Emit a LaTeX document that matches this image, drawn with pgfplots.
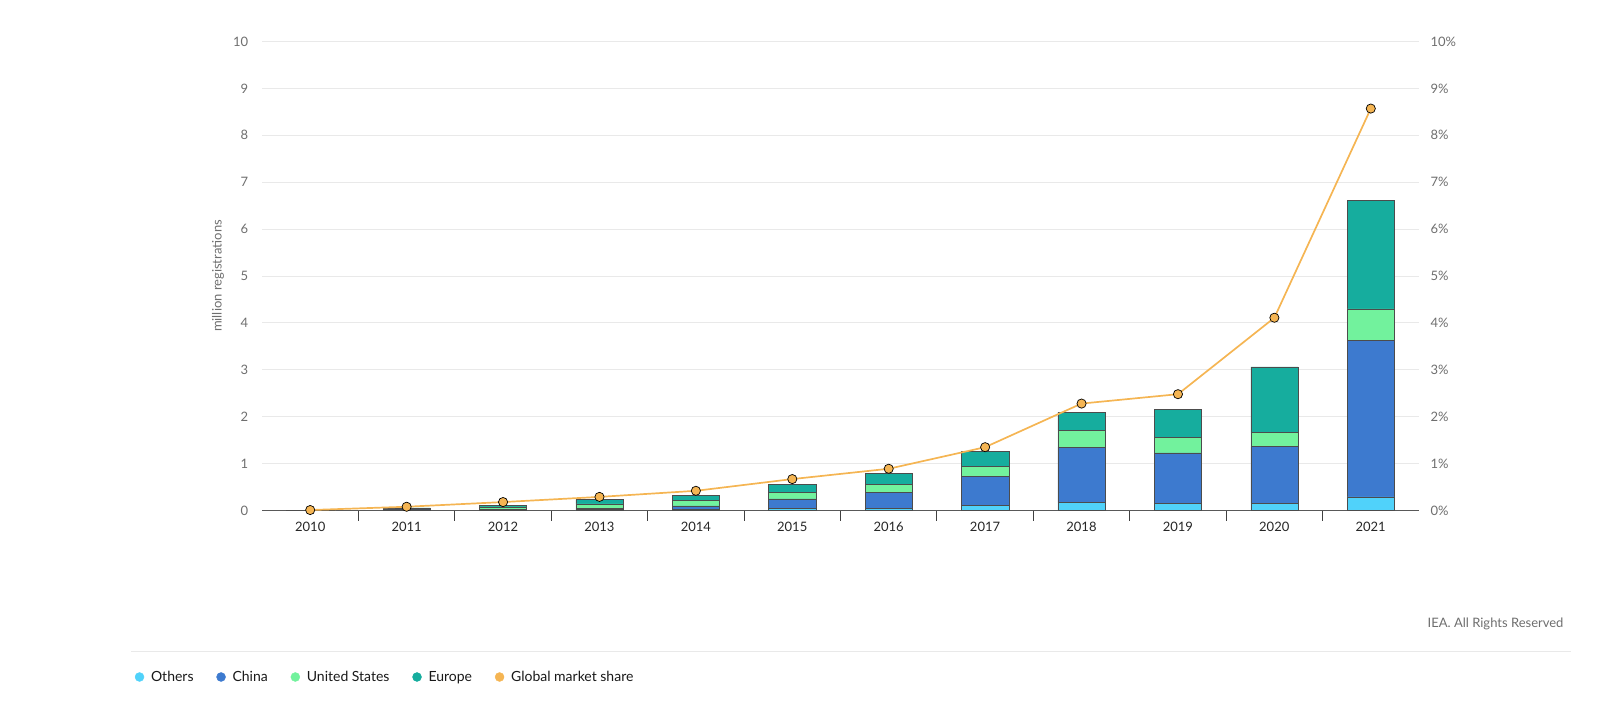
\documentclass[border=0pt]{standalone}
\usepackage{fontspec}
\setmainfont{Lato}
\usepackage{pgfplots}
\pgfplotsset{compat=1.18}

\definecolor{cOthers}{HTML}{50D2FA}
\definecolor{cChina}{HTML}{3D7ACF}
\definecolor{cUS}{HTML}{72F29D}
\definecolor{cEurope}{HTML}{16AD9E}
\definecolor{cShare}{HTML}{F5B553}
\definecolor{tickgray}{HTML}{6E6E6E}
\definecolor{gridgray}{HTML}{E9E9E9}

% million registrations
\pgfplotstableread{
year others china us europe
2010 0.002 0.001 0.001 0.002
2011 0.005 0.008 0.018 0.027
2012 0.010 0.015 0.050 0.035
2013 0.020 0.020 0.100 0.090
2014 0.030 0.070 0.120 0.100
2015 0.040 0.210 0.130 0.180
2016 0.040 0.350 0.170 0.230
2017 0.110 0.620 0.210 0.320
2018 0.170 1.180 0.360 0.390
2019 0.150 1.080 0.330 0.600
2020 0.150 1.210 0.300 1.400
2021 0.290 3.340 0.670 2.310
}\sales

% global market share, percent
\pgfplotstableread{
year share
2010 0.01
2011 0.08
2012 0.18
2013 0.29
2014 0.42
2015 0.67
2016 0.89
2017 1.35
2018 2.28
2019 2.48
2020 4.11
2021 8.57
}\share

\begin{document}
\begin{tikzpicture}[x=1pt,y=1pt]
\path (0,0) rectangle (1600,707);

\begin{axis}[
  at={(262pt,196.5pt)}, anchor=south west,
  width=1157pt, height=469pt, scale only axis,
  xmin=2009.5, xmax=2021.5, ymin=0, ymax=10,
  ybar stacked, bar width=0.49,
  axis x line*=bottom, axis y line*=left,
  y axis line style={draw=none},
  x axis line style={draw=black!65, line width=0.8pt},
  xtick={2010,...,2021}, major x tick style={draw=none},
  minor xtick={2010.5,2011.5,...,2020.5},
  minor x tick style={draw=black!75, line width=0.8pt},
  minor tick length=10pt, tick align=outside,
  ytick={0,...,10}, major y tick style={draw=none},
  ymajorgrids, grid style={draw=gridgray, line width=0.8pt},
  /pgf/number format/1000 sep={},
  /pgf/number format/assume math mode=true,
  xticklabel style={font=\fontsize{13}{15}\selectfont, text=black!85, yshift=-4pt},
  yticklabel style={font=\fontsize{13}{15}\selectfont, text=tickgray, xshift=-6pt},
  every axis plot/.append style={draw=black!70, line width=0.5pt},
]
\addplot[fill=cOthers] table[x=year,y=others] {\sales};
\addplot[fill=cChina] table[x=year,y=china] {\sales};
\addplot[fill=cUS] table[x=year,y=us] {\sales};
\addplot[fill=cEurope] table[x=year,y=europe] {\sales};
\end{axis}

\begin{axis}[
  at={(262pt,196.5pt)}, anchor=south west,
  width=1157pt, height=469pt, scale only axis,
  xmin=2009.5, xmax=2021.5, ymin=0, ymax=10,
  axis x line=none, axis y line*=right,
  y axis line style={draw=none}, major y tick style={draw=none},
  ytick={0,...,10},
  yticklabel={\pgfmathprintnumber{\tick}\%},
  /pgf/number format/assume math mode=true,
  yticklabel style={font=\fontsize{13}{15}\selectfont, text=tickgray, xshift=8pt},
  clip=false,
  legend style={at={(axis description cs:-0.1125,-0.355)}, anchor=west,
    draw=none, fill=none, legend columns=-1,
    font=\fontsize{14}{16}\selectfont, text=black!90,
    /tikz/every odd column/.append style={column sep=5pt},
    /tikz/every even column/.append style={column sep=21pt}},
  legend cell align=left,
]
\addplot[cShare, line width=1.7pt, mark=*,
  mark options={fill=cShare, draw=black, line width=0.7pt},
  mark size=4.6pt, forget plot] table[x=year,y=share] {\share};
\addlegendimage{only marks, mark=*, mark size=4.5pt, color=cOthers}
\addlegendentry{Others}
\addlegendimage{only marks, mark=*, mark size=4.5pt, color=cChina}
\addlegendentry{China}
\addlegendimage{only marks, mark=*, mark size=4.5pt, color=cUS}
\addlegendentry{United States}
\addlegendimage{only marks, mark=*, mark size=4.5pt, color=cEurope}
\addlegendentry{Europe}
\addlegendimage{only marks, mark=*, mark size=4.5pt, color=cShare}
\addlegendentry{Global market share}
\end{axis}

\node[rotate=90, text=tickgray, font=\fontsize{13}{15}\selectfont] at (218,431) {million registrations};
\draw[gridgray, line width=1pt] (131,56) -- (1571,56);
\node[anchor=east, text=tickgray, font=\fontsize{13}{15}\selectfont] at (1567,83) {IEA. All Rights Reserved};
\end{tikzpicture}
\end{document}
